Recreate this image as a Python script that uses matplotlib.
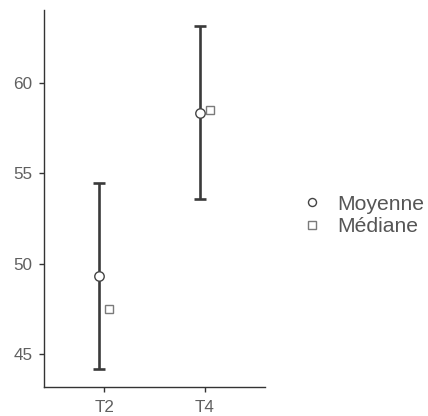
import matplotlib
matplotlib.use("Agg")
import matplotlib.pyplot as plt
import numpy as np

plt.rcParams['font.family'] = ['Liberation Sans', 'DejaVu Sans']

categories = ["T2", "T4"]
means = [49.31, 58.32]
medians = [47.48, 58.51]
ci_low = [44.16, 53.55]
ci_high = [54.45, 63.13]
yticks = [45, 50, 55, 60]

fig = plt.figure(figsize=(4.28, 4.16), dpi=100)
ax = fig.add_axes([0.1035, 0.0704, 0.5155, 0.9056])

x = np.arange(1, len(categories) + 1)
dark = '#333333'
m = np.array(means)
err = [m - np.array(ci_low), np.array(ci_high) - m]
ax.errorbar(x - 0.05, m, yerr=err, fmt='none', ecolor='#3a3a3a', elinewidth=1.9,
            capsize=4, capthick=1.9, zorder=2)
h1, = ax.plot(x - 0.05, m, linestyle='none', marker='o', markersize=6.8,
              markerfacecolor='white', markeredgecolor='#444444',
              markeredgewidth=1.0, zorder=3, label='Moyenne')
h2, = ax.plot(x + 0.05, medians, linestyle='none', marker='s', markersize=6.0,
              markerfacecolor='white', markeredgecolor='#7a7a7a',
              markeredgewidth=1.0, zorder=3, label='Médiane')

ax.set_xlim(0.404, 2.596)
ax.set_ylim(43.19, 64.02)
ax.set_xticks(x)
ax.set_xticklabels(categories)
ax.set_yticks(yticks)

for s in ['top', 'right']:
    ax.spines[s].set_visible(False)
for s in ['left', 'bottom']:
    ax.spines[s].set_color(dark)
    ax.spines[s].set_linewidth(1.0)
ax.tick_params(axis='both', colors=dark, labelcolor='#606060', length=3.5,
               width=1.0, labelsize=12.3)
ax.tick_params(axis='x', pad=6)
ax.tick_params(axis='y', pad=5)

leg = fig.legend(handles=[h1, h2], loc='center left',
                 bbox_to_anchor=(0.684, 0.482), frameon=False,
                 fontsize=15.2, handlelength=0.8, handletextpad=0.8,
                 labelspacing=0.16, markerscale=0.85, borderpad=0)
for t in leg.get_texts():
    t.set_color('#555555')

fig.savefig('out.png', dpi=100)
